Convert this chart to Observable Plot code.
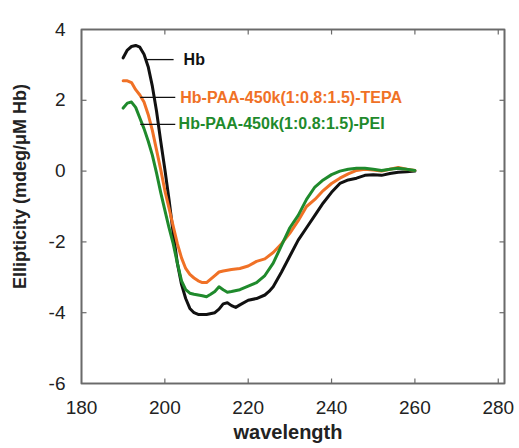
<!DOCTYPE html>
<html>
<head>
<meta charset="utf-8">
<script src="https://cdn.jsdelivr.net/npm/d3@7"></script>
<script src="https://cdn.jsdelivr.net/npm/@observablehq/plot@0.6"></script>
<style>
  html, body { margin: 0; padding: 0; background: #fff; }
  body { width: 519px; height: 448px; overflow: hidden; }
</style>
</head>
<body>
<div id="chart"></div>
<script>
// ---- data ----
const seriesNames = ["Hb", "Hb-PAA-450k(1:0.8:1.5)-TEPA", "Hb-PAA-450k(1:0.8:1.5)-PEI"];
const seriesColors = ["#111111", "#f07126", "#1f8a2c"];

const hbWavelength = [190,191,192,193,194,195,196,197,198,199,200,201,202,203,204,205,206,207,208,210,212,213,214,215,216,217,218,220,222,224,225,226,228,230,232,234,236,238,240,242,244,246,248,250,252,254,256,258,260];
const hbValues     = [3.2,3.42,3.52,3.55,3.5,3.3,2.95,2.4,1.7,0.85,0.05,-0.8,-1.75,-2.6,-3.2,-3.6,-3.88,-4.0,-4.05,-4.05,-4.0,-3.9,-3.75,-3.72,-3.8,-3.85,-3.78,-3.65,-3.6,-3.5,-3.4,-3.27,-2.85,-2.4,-1.95,-1.6,-1.25,-0.9,-0.6,-0.35,-0.25,-0.2,-0.12,-0.1,-0.12,-0.07,-0.03,-0.02,0.0];

const tepaWavelength = [190,191,192,193,194,195,196,197,198,199,200,201,202,203,204,205,206,207,208,209,210,211,212,213,214,216,218,220,222,224,226,228,230,232,234,236,238,240,242,244,246,248,250,252,254,256,258,260];
const tepaValues     = [2.55,2.55,2.5,2.3,2.15,1.95,1.6,1.15,0.6,0.05,-0.55,-1.05,-1.55,-2.05,-2.45,-2.75,-2.92,-3.02,-3.1,-3.15,-3.15,-3.05,-2.95,-2.85,-2.82,-2.78,-2.75,-2.68,-2.55,-2.48,-2.3,-2.05,-1.75,-1.4,-1.0,-0.8,-0.55,-0.35,-0.2,-0.08,0.02,0.05,0.03,0.0,0.05,0.1,0.05,0.02];

const peiWavelength = [190,191,192,193,194,195,196,197,198,199,200,201,202,203,204,205,206,207,208,209,210,211,212,213,214,215,216,218,220,222,224,226,228,230,232,234,236,238,240,242,244,246,248,250,252,254,256,258,260];
const peiValues     = [1.78,1.92,1.95,1.8,1.5,1.2,0.85,0.45,-0.05,-0.6,-1.1,-1.6,-2.05,-2.6,-3.1,-3.35,-3.45,-3.48,-3.5,-3.52,-3.55,-3.48,-3.4,-3.27,-3.35,-3.42,-3.4,-3.35,-3.25,-3.15,-2.95,-2.6,-2.1,-1.6,-1.25,-0.8,-0.45,-0.25,-0.1,0.0,0.05,0.08,0.08,0.05,0.02,0.05,0.08,0.05,0.02];

const xTicks = [180, 200, 220, 240, 260, 280];
const yTicks = [-6, -4, -2, 0, 2, 4];
const xDomain = [180, 281.5];
const yDomain = [-6, 4];
const xLabel = "wavelength";
const yLabel = "Ellipticity (mdeg/μM Hb)";

// leader lines and series-name anchors (data coordinates)
const labelX1 = [195.3, 194.1, 194.1];
const labelX2 = [202.1, 202.5, 202.5];
const labelY  = [3.15, 2.08, 1.32];
const labelTextX = [204.5, 203.7, 203.3];

// ---- tables built from the arrays ----
const rows = [];
[[hbWavelength, hbValues], [tepaWavelength, tepaValues], [peiWavelength, peiValues]].forEach(([ws, vs], i) => {
  ws.forEach((w, j) => rows.push({series: seriesNames[i], color: seriesColors[i], w, v: vs[j]}));
});
const labels = seriesNames.map((name, i) => ({name, color: seriesColors[i], x1: labelX1[i], x2: labelX2[i], y: labelY[i], tx: labelTextX[i]}));

// frame outline as a closed path through the domain corners
const [x0, x1] = xDomain, [y0, y1] = yDomain;
const frameOutline = [[x0, y0], [x1, y0], [x1, y1], [x0, y1], [x0, y0]];
// inward tick lengths (≈5px) expressed in data units
const tx = (x1 - x0) * 5 / 423, ty = (y1 - y0) * 5 / 354;
const tickLinks = [
  ...xTicks.filter(t => t > x0).map(t => ({a: t, b: t, c: y0, d: y0 + ty})),
  ...xTicks.filter(t => t > x0).map(t => ({a: t, b: t, c: y1, d: y1 - ty})),
  ...yTicks.filter(t => t > y0 && t < y1).map(t => ({a: x0, b: x0 + tx, c: t, d: t})),
  ...yTicks.filter(t => t > y0 && t < y1).map(t => ({a: x1, b: x1 - tx, c: t, d: t}))
];

const fmt = d => String(d);
const font = "Liberation Sans, Arial, sans-serif";
const chart = Plot.plot({
  width: 519,
  height: 448,
  marginLeft: 81,
  marginRight: 15,
  marginTop: 29,
  marginBottom: 65,
  x: {domain: xDomain},
  y: {domain: yDomain},
  marks: [
    Plot.axisX({ticks: xTicks, tickSize: 0, tickPadding: 17, fontSize: 19, tickFormat: fmt, label: null, anchor: "bottom", fill: "#222", fontFamily: font}),
    Plot.axisY({ticks: yTicks, tickSize: 0, tickPadding: 16, fontSize: 19, tickFormat: fmt, label: null, anchor: "left", fill: "#222", fontFamily: font}),
    Plot.text([xLabel], {frameAnchor: "bottom", dy: 55, dx: -5, fontSize: 20, fontWeight: "bold", fill: "#222", fontFamily: font}),
    Plot.text([yLabel], {frameAnchor: "left", textAnchor: "middle", dx: -61, dy: -20, rotate: -90, fontSize: 18, fontWeight: "bold", fill: "#222", fontFamily: font}),
    Plot.line(rows, {x: "w", y: "v", z: "series", stroke: "color", strokeWidth: 3}),
    Plot.link(labels, {x1: "x1", x2: "x2", y1: "y", y2: "y", stroke: "#111", strokeWidth: 1.3}),
    Plot.text(labels, {x: "tx", y: "y", text: "name", fill: "color", textAnchor: "start", fontSize: 16, fontWeight: "bold", fontFamily: font}),
    Plot.frame({stroke: "#6a6a6a", strokeWidth: 1.6}),
    Plot.line(frameOutline, {x: d => d[0], y: d => d[1], stroke: "#6a6a6a", strokeWidth: 1.6, strokeLinejoin: "miter"}),
    Plot.link(tickLinks, {x1: "a", x2: "b", y1: "c", y2: "d", stroke: "#6a6a6a", strokeWidth: 1.2})
  ]
});
document.getElementById("chart").appendChild(chart);
</script>
</body>
</html>
